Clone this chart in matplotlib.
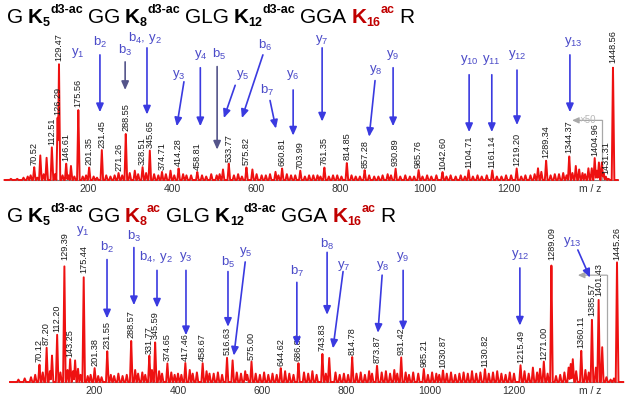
import matplotlib
matplotlib.use('Agg')
import matplotlib.pyplot as plt
import numpy as np

plt.rcParams['font.family'] = ['Liberation Sans', 'DejaVu Sans']
plt.rcParams['mathtext.default'] = 'regular'

# ---------------- data ----------------
top_mz = [70.52, 85, 100, 112.51, 126.29, 129.47, 146.61, 158, 175.56, 201.35, 231.45,
          271.26, 288.55, 310, 328.51, 345.65, 374.71, 395, 414.28, 458.81, 520, 533.77,
          575.82, 590, 645, 660.81, 703.99, 761.35, 814.85, 857.28, 930.89, 985.76,
          1042.60, 1104.71, 1161.14, 1219.20, 1270, 1289.34, 1330, 1344.37, 1360, 1390,
          1404.96, 1415, 1431.31, 1448.56]
top_int = [11, 21, 19, 28, 54, 100, 14.5, 12, 61, 11, 26,
           6, 40, 8, 11, 26, 7, 8, 10, 7, 9, 14,
           11, 9, 7, 10, 8, 11, 15, 8.5, 10, 8.5,
           7, 8.5, 8.5, 10, 10, 17, 6, 21, 12, 10,
           19, 15, 3, 98]
top_labels = [70.52, 112.51, 126.29, 129.47, 146.61, 175.56, 201.35, 231.45, 271.26, 288.55,
              328.51, 345.65, 374.71, 414.28, 458.81, 533.77, 575.82, 660.81, 703.99, 761.35,
              814.85, 857.28, 930.89, 985.76, 1042.60, 1104.71, 1161.14, 1219.20, 1289.34,
              1344.37, 1404.96, 1431.31, 1448.56]
top_minor_peaks = [(15, 1), (30, 1), (45, 2), (55, 3), (62, 4), (78, 2), (93, 5), (120, 5),
                   (138, 4), (152, 4), (166, 3), (186, 3), (194, 4), (212, 3), (220, 2),
                   (242, 4), (252, 3), (262, 4), (280, 4), (298, 6), (318, 5), (337, 6),
                   (356, 5), (366, 4), (384, 5), (404, 4), (425, 5), (433, 4), (444, 4),
                   (470, 4), (480, 3), (492, 5), (505, 4), (512, 5), (546, 4), (556, 5),
                   (565, 3), (600, 5), (612, 4), (622, 4), (632, 5), (652, 4), (672, 5),
                   (682, 4), (692, 4), (715, 3), (725, 4), (735, 4), (745, 4), (752, 3),
                   (772, 3), (782, 4), (792, 4), (802, 3), (826, 4), (836, 3), (846, 3),
                   (868, 4), (880, 3), (890, 3), (900, 4), (912, 5), (920, 4), (942, 3),
                   (954, 4), (965, 3), (975, 3), (995, 3), (1006, 4), (1016, 3), (1028, 4),
                   (1052, 3), (1062, 4), (1074, 3), (1086, 4), (1096, 3), (1115, 3),
                   (1126, 4), (1136, 3), (1148, 4), (1172, 3), (1183, 3), (1194, 4),
                   (1206, 4), (1230, 3), (1240, 4), (1252, 4), (1262, 5), (1278, 7),
                   (1300, 4), (1310, 5), (1320, 5), (1338, 4), (1352, 6), (1368, 9),
                   (1376, 6), (1382, 5), (1398, 10), (1410, 8), (1422, 15), (1426, 6),
                   (1438, 1)]

bot_mz = [70.12, 87.20, 100, 112.20, 129.39, 143.25, 155, 175.44, 201.38, 231.55, 288.57,
          331.77, 345.59, 374.65, 417.46, 458.67, 516.63, 530, 575.00, 644.62, 686.82,
          743.83, 760, 814.78, 873.87, 931.42, 985.21, 1030.87, 1130.82, 1215.49, 1271.00,
          1289.09, 1340, 1360.11, 1385.57, 1401.43, 1410, 1445.26]
bot_int = [15, 29, 22, 40, 100, 19, 18, 89, 12, 26, 35,
           22, 34, 16, 16, 16, 21, 18, 17, 12, 16,
           24, 20, 21, 14, 21, 11, 10, 11, 14, 17,
           100, 19, 27, 53, 70, 29, 100]
bot_labels = [70.12, 87.20, 112.20, 129.39, 143.25, 175.44, 201.38, 231.55, 288.57, 331.77,
              345.59, 374.65, 417.46, 458.67, 516.63, 575.00, 644.62, 686.82, 743.83, 814.78,
              873.87, 931.42, 985.21, 1030.87, 1130.82, 1215.49, 1271.00, 1289.09, 1360.11,
              1385.57, 1401.43, 1445.26]
bot_minor_peaks = [(20, 2), (35, 3), (50, 4), (60, 6), (78, 8), (95, 9), (120, 8), (137, 10),
                   (150, 9), (162, 11), (168, 6), (185, 5), (192, 6), (210, 5), (218, 4),
                   (240, 6), (248, 5), (258, 7), (268, 5), (278, 6), (298, 10), (305, 7),
                   (315, 8), (322, 6), (338, 10), (355, 9), (362, 7), (384, 8), (392, 6),
                   (400, 7), (408, 6), (428, 10), (435, 7), (445, 8), (468, 9), (475, 7),
                   (485, 7), (495, 8), (505, 6), (540, 8), (550, 7), (560, 9), (565, 6),
                   (585, 7), (595, 6), (605, 8), (615, 6), (625, 7), (635, 6), (655, 9),
                   (665, 7), (675, 6), (700, 8), (710, 7), (720, 9), (730, 6), (752, 7),
                   (775, 8), (785, 6), (795, 7), (805, 6), (825, 7), (835, 8), (845, 6),
                   (855, 9), (862, 7), (885, 8), (895, 9), (905, 7), (915, 10), (922, 7),
                   (942, 8), (950, 6), (960, 8), (972, 7), (995, 6), (1005, 8), (1015, 7),
                   (1022, 6), (1040, 7), (1050, 8), (1060, 6), (1070, 7), (1080, 8),
                   (1090, 7), (1100, 9), (1110, 7), (1120, 8), (1140, 7), (1150, 8),
                   (1160, 9), (1170, 7), (1180, 6), (1190, 8), (1200, 7), (1225, 9),
                   (1235, 7), (1245, 12), (1255, 8), (1262, 11), (1280, 7), (1300, 5),
                   (1310, 6), (1320, 8), (1330, 12), (1335, 15), (1348, 9), (1370, 10),
                   (1378, 8), (1395, 12), (1420, 4), (1430, 2), (1438, 3)]

x_ticks = [200, 400, 600, 800, 1000, 1200]

# ion annotations: (label, text mz, text int, arrow start (mz,int) or None, arrow end, dark)
top_ions = [
    ('y$_1$', 175, 109, None, None, False),
    ('b$_2$', 227, 118, (227, 107), (227, 58), False),
    ('b$_3$', 287, 111, (287, 101), (287, 77), True),
    ('b$_4$, y$_2$', 334, 121.5, (339, 113), (339, 56), False),
    ('y$_3$', 415, 90, (427, 84), (410, 46), False),
    ('y$_4$', 466, 107, (466, 96), (466, 46), False),
    ('b$_5$', 510, 107, (506, 97), (506, 26), True),
    ('y$_5$', 566, 90, (549, 81), (522, 53), False),
    ('b$_6$', 620, 115, (615, 107), (565, 53), False),
    ('b$_7$', 625, 77, (632, 68), (646, 44), False),
    ('y$_6$', 687, 90, (687, 77), (687, 38), False),
    ('y$_7$', 756, 120, (756, 113), (756, 50), False),
    ('y$_8$', 884, 94, (882, 85), (868, 37), False),
    ('y$_9$', 925, 107, (925, 96), (925, 46), False),
    ('y$_{10}$', 1106, 103, (1106, 90), (1106, 41), False),
    ('y$_{11}$', 1160, 103, (1160, 90), (1160, 41), False),
    ('y$_{12}$', 1220, 107, (1220, 94), (1220, 47), False),
    ('y$_{13}$', 1353, 118, (1346, 107), (1346, 58), False),
]
bot_ions = [
    ('y$_1$', 174, 126, None, None, False),
    ('b$_2$', 231, 112, (231, 102), (231, 53), False),
    ('b$_3$', 295, 121, (295, 112), (295, 64), False),
    ('b$_4$, y$_2$', 348, 104, (350, 93), (350, 62), False),
    ('y$_3$', 419, 104, (419, 93), (419, 39), False),
    ('b$_5$', 519, 100, (519, 92), (519, 46), False),
    ('y$_5$', 562, 108, (560, 100), (533, 22), False),
    ('b$_7$', 683, 92, (683, 83), (683, 30), False),
    ('b$_8$', 755, 115, (755, 108), (755, 56), False),
    ('y$_7$', 795, 97, (793, 92), (769, 28), False),
    ('y$_8$', 888, 97, (886, 89), (876, 41), False),
    ('y$_9$', 936, 104, (936, 93), (936, 43), False),
    ('y$_{12}$', 1214, 106, (1214, 95), (1214, 47), False),
    ('y$_{13}$', 1338, 117, (1352, 110), (1381, 87), False),
]

# ---------------- figure ----------------
W, H = 628, 400
fig = plt.figure(figsize=(W / 100, H / 100), dpi=100)
fig.patch.set_facecolor('white')
XMAX = 1460
RED = '#ee1111'
BLUE_TXT = '#4b4bc8'
BLUE_ARR = '#3a3ae0'
DARK_ARR = '#55558a'
GRAY = '#a8a8a8'


def px_axes(left, top, right, bottom):
    return fig.add_axes([left / W, 1 - bottom / H, (right - left) / W, (bottom - top) / H])


def profile(mz, inten, minor, hw=3.0):
    x = np.arange(0, XMAX + 0.01, 0.25)
    y = np.zeros_like(x)
    for m, i in list(zip(mz, inten)) + list(minor):
        y = np.maximum(y, i * np.clip(1 - np.abs(x - m) / hw, 0, None))
    return x, y


def draw_panel(ax, mz, inten, minor, labels, ymax, ions, bracket, mz_label_x):
    x, y = profile(mz, inten, minor)
    ax.plot(x, y, color=RED, lw=1.4, clip_on=False, zorder=3)
    ax.set_xlim(0, XMAX)
    ax.set_ylim(0, ymax)
    for s in ['top', 'right', 'left']:
        ax.spines[s].set_visible(False)
    ax.spines['bottom'].set_color('#808080')
    ax.spines['bottom'].set_linewidth(0.8)
    ax.set_yticks([])
    ax.set_xticks(x_ticks + [mz_label_x])
    ax.set_xticklabels([str(t) for t in x_ticks] + ['m / z'])
    ax.tick_params(axis='x', length=0, pad=3, labelsize=7.5, labelcolor='#333333')
    ax.patch.set_visible(False)
    for lab in labels:
        i = mz.index(lab)
        ax.annotate(f'{lab:.2f}', xy=(lab, inten[i]), xytext=(0, 1.5),
                    textcoords='offset points', rotation=90, ha='center', va='bottom',
                    fontsize=6.6, color='#1a1a1a', zorder=4)
    for text, tx, ty, a0, a1, dark in ions:
        ax.text(tx, ty, text, ha='center', va='center', fontsize=9.5, color=BLUE_TXT, zorder=5)
        if a0 is not None:
            ax.annotate('', xy=a1, xytext=a0,
                        arrowprops=dict(arrowstyle='-|>,head_length=0.5,head_width=0.22',
                                        color=DARK_ARR if dark else BLUE_ARR, lw=1.2,
                                        shrinkA=0, shrinkB=0),
                        annotation_clip=False, zorder=5)
    (x0, x1, yb, show_txt) = bracket
    ax.plot([x1, x1], [yb, 1], color=GRAY, lw=0.9, zorder=2)
    ax.annotate('', xy=(x0, yb), xytext=(x1, yb),
                arrowprops=dict(arrowstyle='-|>,head_length=0.4,head_width=0.18',
                                color=GRAY, lw=0.9, shrinkA=0, shrinkB=0), zorder=2)
    if show_txt:
        ax.text(x0 + 18, yb, '×50', ha='left', va='center', fontsize=7, color='#b8b8b8', zorder=2)


def rich_title(x0, base, pieces):
    r = fig.canvas.get_renderer()
    x = x0
    for p in pieces:
        if p[0] == 'gap':
            x += p[1]
            continue
        kind, s, color = p
        if kind == 't':
            t = fig.text(x / W, 1 - base / H, s, fontsize=15, color=color, va='baseline', ha='left')
        elif kind == 'K':
            t = fig.text(x / W, 1 - base / H, s, fontsize=15, fontweight='bold', color=color,
                         va='baseline', ha='left')
        elif kind == 'sub':
            t = fig.text(x / W, 1 - (base + 3) / H, s, fontsize=9, fontweight='bold', color=color,
                         va='baseline', ha='left')
        else:  # sup
            t = fig.text(x / W, 1 - (base - 10) / H, s, fontsize=9, fontweight='bold', color=color,
                         va='baseline', ha='left')
        x += t.get_window_extent(r).width


K = '#000000'
DR = '#c00000'
SP = 5
top_title = [('t', 'G', K), ('gap', SP), ('K', 'K', K), ('sub', '5', K), ('sup', 'd3-ac', K),
             ('gap', SP), ('t', 'GG', K), ('gap', SP), ('K', 'K', K), ('sub', '8', K),
             ('sup', 'd3-ac', K), ('gap', SP), ('t', 'GLG', K), ('gap', SP), ('K', 'K', K),
             ('sub', '12', K), ('sup', 'd3-ac', K), ('gap', SP), ('t', 'GGA', K), ('gap', SP),
             ('K', 'K', DR), ('sub', '16', DR), ('sup', 'ac', DR), ('gap', SP), ('t', 'R', K)]
bot_title = [('t', 'G', K), ('gap', SP), ('K', 'K', K), ('sub', '5', K), ('sup', 'd3-ac', K),
             ('gap', SP), ('t', 'GG', K), ('gap', SP), ('K', 'K', DR), ('sub', '8', DR),
             ('sup', 'ac', DR), ('gap', SP), ('t', 'GLG', K), ('gap', SP), ('K', 'K', K),
             ('sub', '12', K), ('sup', 'd3-ac', K), ('gap', SP), ('t', 'GGA', K), ('gap', SP),
             ('K', 'K', DR), ('sub', '16', DR), ('sup', 'ac', DR), ('gap', SP), ('t', 'R', K)]

ax1 = px_axes(4.6, 28, 4.6 + 0.42 * XMAX, 180)
draw_panel(ax1, top_mz, top_int, top_minor_peaks, top_labels, 130, top_ions,
           (1351, 1422, 51, True), 1394)
ax2 = px_axes(10, 228, 10 + 0.42 * XMAX, 382)
draw_panel(ax2, bot_mz, bot_int, bot_minor_peaks, bot_labels, 128.3, bot_ions,
           (1352, 1421, 89, False), 1381)

rich_title(7, 23, top_title)
rich_title(7, 222, bot_title)

fig.savefig('out.png', dpi=100, facecolor='white')
